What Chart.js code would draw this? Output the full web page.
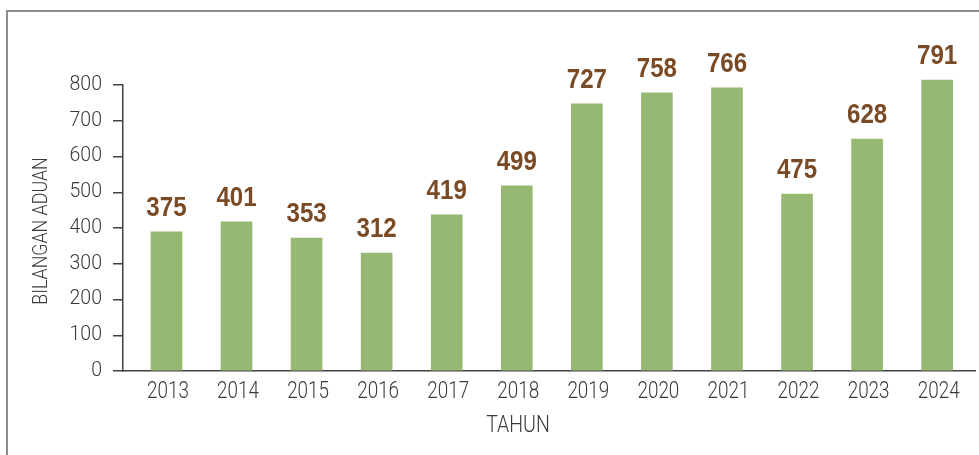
<!DOCTYPE html>
<html>
<head>
<meta charset="utf-8">
<script src="https://cdn.jsdelivr.net/npm/chart.js@4.4.1/dist/chart.umd.min.js"></script>
<style>
  html, body { margin: 0; padding: 0; background: #ffffff; }
  #wrap { position: relative; width: 979px; height: 455px; }
</style>
</head>
<body>
<div id="wrap"><canvas id="c" width="979" height="455"></canvas></div>
<script>
// Categories (years)
const years = [2013, 2014, 2015, 2016, 2017, 2018, 2019, 2020, 2021, 2022, 2023, 2024];
// Printed value labels above bars
const labelValues = [375, 401, 353, 312, 419, 499, 727, 758, 766, 475, 628, 791];
// Bar heights as drawn in the picture
const barHeights = [389, 417, 372, 330, 437, 518, 747, 778, 792, 495, 649, 814];
// Y axis ticks
const yTicks = [0, 100, 200, 300, 400, 500, 600, 700, 800];
const xTitle = 'TAHUN';
const yTitle = 'BILANGAN ADUAN';

const axisColor = '#404040';
const textColor = '#3a3a3a';
const barColor = '#97b873';
const labelColor = '#7a4a25';
const FONT = '"Liberation Sans", Arial, sans-serif';
const LIGHT = 'Roboto, "Liberation Sans", sans-serif';

// draw text squeezed horizontally (condensed look)
function condensedText(ctx, text, x, y, sx) {
  ctx.save();
  ctx.translate(x, y);
  ctx.scale(sx, 1);
  ctx.fillText(text, 0, 0);
  ctx.restore();
}

const framePlugin = {
  id: 'frame',
  beforeDraw(chart) {
    const ctx = chart.ctx;
    ctx.save();
    ctx.strokeStyle = '#8c8c8c';
    ctx.lineWidth = 2;
    ctx.beginPath();
    ctx.moveTo(7, 455);
    ctx.lineTo(7, 11);
    ctx.lineTo(979, 11);
    ctx.stroke();
    ctx.restore();
  }
};

const labelPlugin = {
  id: 'valueLabels',
  afterDatasetsDraw(chart) {
    const ctx = chart.ctx;
    const meta = chart.getDatasetMeta(0);
    ctx.save();
    ctx.font = 'bold 28px ' + FONT;
    ctx.fillStyle = labelColor;
    ctx.textAlign = 'center';
    ctx.textBaseline = 'alphabetic';
    meta.data.forEach((bar, i) => {
      condensedText(ctx, String(labelValues[i]), bar.x, bar.y - 16, 0.86);
    });
    ctx.restore();
  }
};

const textPlugin = {
  id: 'axisTexts',
  afterDraw(chart) {
    const ctx = chart.ctx;
    const xs = chart.scales.x;
    ctx.save();
    ctx.fillStyle = textColor;
    ctx.textAlign = 'center';
    ctx.textBaseline = 'alphabetic';
    // year tick labels
    ctx.font = '300 23px ' + LIGHT;
    years.forEach(y => {
      condensedText(ctx, String(y), xs.getPixelForValue(y) + 1.5, 398, 0.82);
    });
    // x title
    condensedText(ctx, xTitle, 518, 432, 0.85);
    // y title
    ctx.translate(47, 231);
    ctx.rotate(-Math.PI / 2);
    ctx.font = '300 20px ' + LIGHT;
    condensedText(ctx, yTitle, 0, 0, 0.89);
    ctx.restore();
  }
};

new Chart(document.getElementById('c'), {
  type: 'bar',
  data: {
    datasets: [{
      data: years.map((y, i) => ({ x: y, y: barHeights[i] })),
      backgroundColor: barColor,
      borderWidth: 0,
      barThickness: 31,
      clip: false
    }]
  },
  options: {
    responsive: false,
    animation: false,
    events: [],
    layout: { padding: { top: 85, right: 4, left: 0, bottom: 0 } },
    plugins: { legend: { display: false }, tooltip: { enabled: false } },
    scales: {
      x: {
        type: 'linear',
        min: 2012.38,
        max: 2024.54,
        offset: false,
        afterBuildTicks(scale) { scale.ticks = years.map(v => ({ value: v })); },
        afterFit(scale) { scale.height = 84; },
        ticks: { display: false },
        grid: { display: true, drawOnChartArea: false, drawTicks: false, color: 'rgba(0,0,0,0)' },
        border: { display: true, color: axisColor, width: 1.5 }
      },
      y: {
        min: 0,
        max: 800,
        afterBuildTicks(scale) { scale.ticks = yTicks.map(v => ({ value: v })); },
        afterFit(scale) { scale.width = 123; },
        ticks: {
          color: textColor,
          padding: 11,
          font: { family: LIGHT, size: 19.5, weight: 300 }
        },
        grid: { drawOnChartArea: false, drawTicks: true, tickLength: 10, color: axisColor, lineWidth: 1.5 },
        border: { display: true, color: axisColor, width: 1.5 }
      }
    }
  },
  plugins: [framePlugin, labelPlugin, textPlugin]
});
</script>
</body>
</html>
